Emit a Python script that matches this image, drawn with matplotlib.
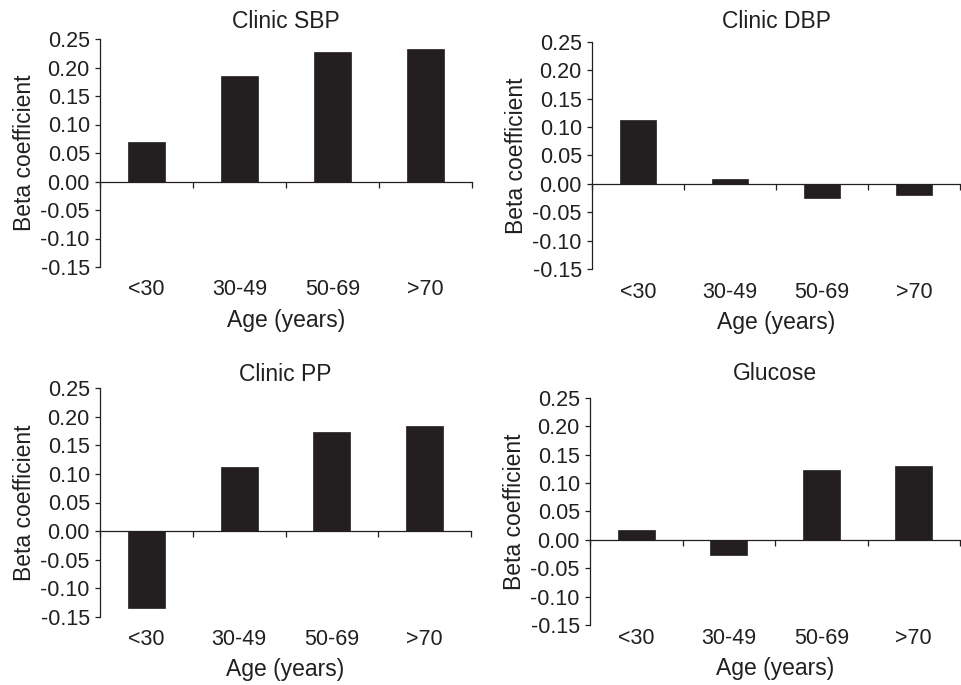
import matplotlib
matplotlib.use("Agg")
import matplotlib.pyplot as plt
import numpy as np

plt.rcParams['font.family'] = ['Liberation Sans', 'DejaVu Sans']

categories = ["<30", "30-49", "50-69", ">70"]
titles = ["Clinic SBP", "Clinic DBP", "Clinic PP", "Glucose"]
sbp = [0.070, 0.185, 0.228, 0.232]
dbp = [0.112, 0.008, -0.025, -0.020]
pp = [-0.134, 0.112, 0.174, 0.184]
glucose = [0.018, -0.027, 0.122, 0.129]
series = [sbp, dbp, pp, glucose]
yticks = [-0.15, -0.10, -0.05, 0.00, 0.05, 0.10, 0.15, 0.20, 0.25]

W, H = 961, 685
fig = plt.figure(figsize=(W / 100, H / 100), dpi=100)

# axes boxes in pixels: left, right, top, bottom
boxes = [
    (100, 472, 39, 267),
    (592, 960, 41.7, 269.3),
    (100, 471, 388.3, 616.7),
    (590, 960, 397.7, 625.0),
]
title_pads = [8, 9.9, 5.3, 12.7]
xtick_pads = [9, 8.8, 8.9, 2.2]

ink = "#231f20"
fs_tick = 15.5
fs_lab = 16.5

for (l, r, t, b), title, vals, tp, xp in zip(boxes, titles, series, title_pads, xtick_pads):
    ax = fig.add_axes([l / W, 1 - b / H, (r - l) / W, (b - t) / H])
    x = np.arange(1, len(categories) + 1)
    ax.bar(x, vals, width=0.4, color=ink, edgecolor=ink, linewidth=0.5, zorder=2)
    ax.set_xlim(0.5, 4.5)
    ax.set_ylim(-0.15, 0.25)
    ax.set_yticks(yticks)
    ax.set_yticklabels([f"{v:.2f}" for v in yticks], fontsize=fs_tick, color=ink)
    ax.spines['top'].set_visible(False)
    ax.spines['right'].set_visible(False)
    ax.spines['bottom'].set_position(('data', 0))
    for s in ('left', 'bottom'):
        ax.spines[s].set_color(ink)
        ax.spines[s].set_linewidth(0.9)
    ax.set_xticks([0.5, 1.5, 2.5, 3.5, 4.5])
    ax.set_xticklabels([])
    ax.tick_params(axis='x', direction='out', length=4.5, width=0.9, color=ink)
    ax.tick_params(axis='y', direction='out', length=3.8, width=0.9, color=ink, pad=3.5)
    sec = ax.secondary_xaxis(0.0)
    sec.set_xticks(x)
    sec.set_xticklabels(categories, fontsize=fs_tick, color=ink)
    sec.tick_params(length=0, pad=xp)
    sec.spines['bottom'].set_visible(False)
    sec.set_xlabel("Age (years)", fontsize=fs_lab, color=ink, labelpad=6)
    ax.set_ylabel("Beta coefficient", fontsize=fs_lab, color=ink, labelpad=3)
    ax.set_title(title, fontsize=fs_lab, color=ink, pad=tp)

fig.savefig("out.png", dpi=100)
